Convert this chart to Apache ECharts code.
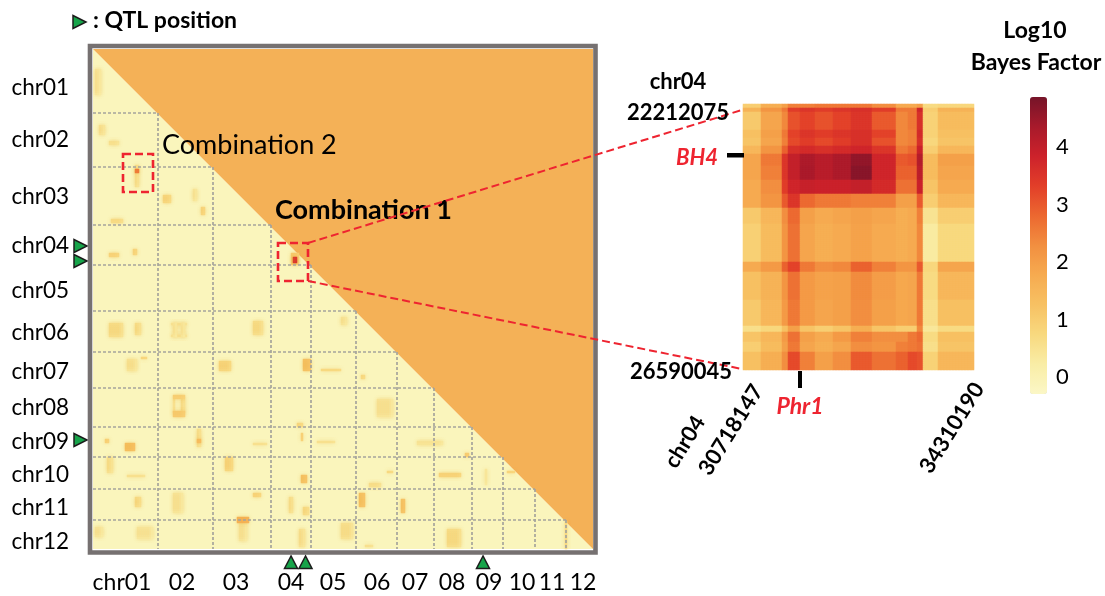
<!DOCTYPE html>
<html>
<head>
<meta charset="utf-8">
<style>html,body{margin:0;padding:0;background:#fff}#c{width:1105px;height:596px}</style>
<script src="https://cdn.jsdelivr.net/npm/echarts@6/dist/echarts.min.js"></script>
</head>
<body>
<div id="c"></div>
<script>
// ---- genome-wide map (positions in map units, 0-500 across the genome) ----
const chrTickX = ['chr01','02','03','04','05','06','07','08','09','10','11','12'];
const chrTickY = ['chr01','chr02','chr03','chr04','chr05','chr06','chr07','chr08','chr09','chr10','chr11','chr12'];
const tickPosX = [29,89,143,198,240,284,322,359,396,429,459,490];
const tickPosY = [39,91,148,197,242,284,323,359,393,426,459,493];
const colBounds = [65,120,178,218,263,304,341,379,410,442,473];
const rowBounds = [64,118,176,216,262,303,339,378,408,440,471];
const qtlCols = [198,212.5,390];
const qtlRows = [197,212,391];
// elevated regions: [x0, y0, x1, y1, log10BF]
const hotspots = [
 [43,116,46,138,0.5],[43,121,46,124,2.6],
 [199,205,206,216,1.0],[200,209,204,214,3.5],
 [17,93,25,95,0.45],[70,146,77,154,0.7],[108,159,112,166,0.8],[19,171,29,174,0.6],
 [17,205,25,208,0.8],[40,201,44,205,0.8],[101,141,103,151,0.35],[2,21,7,46,0.3],[7,76,11,86,0.4],
 [17,274,30,288,0.5],[43,274,47,286,0.5],[79,274,93,276,0.35],[79,286,93,288,0.35],[81,274,83,288,0.35],[89,274,91,288,0.35],
 [160,273,169,286,0.5],[248,269,254,276,0.35],
 [35,311,44,321,0.35],[49,308,54,310,0.8],[126,313,137,321,0.7],[210,311,217,321,1.2],[229,320,247,322,0.7],
 [80,346,91,350,0.9],[80,363,91,368,1.0],[80,350,82,363,0.5],[89,350,91,363,0.5],
 [284,351,300,368,0.3],[269,326,272,329,0.7],
 [33,395,42,401,1.3],[13,391,15,393,0.9],[105,380,107,398,0.5],[104,390,107,394,1.4],
 [160,394,174,395,0.5],[208,385,210,391,0.9],[205,375,209,378,0.7],[224,392,242,393,0.5],[324,393,350,396,0.35],
 [14,409,19,423,0.45],[132,409,140,421,0.7],[209,426,214,434,1.2],[35,426,52,427,0.5],
 [347,425,367,428,0.8],[295,422,300,424,0.7],[373,404,376,408,1.0],[415,422,422,424,0.8],[392,421,394,435,0.35],
 [277,435,287,438,0.5],
 [43,448,48,458,0.6],[80,444,89,463,0.3],[160,445,167,448,0.8],[196,448,199,463,0.5],[210,458,215,466,0.6],
 [267,444,271,458,1.2],[309,451,312,464,1.2],
 [145,468,155,474,1.6],[146,474,154,491,0.3],[45,478,59,489,0.25],[2,478,9,488,0.3],[207,481,212,498,0.4],
 [249,474,259,489,0.4],[354,481,367,498,0.5],[272,496,280,498,0.5],[472,473,474,499,0.7]
];
// ---- chr04 zoom: block sizes and values, read row by row ----
const zoomColSpans = [6,7,2,4,5,6,6,7,8,4,3,2,5,12];
const zoomRowSpans = [2,2,9,4,4,4,6,7,7,7,8,19,5,14,13,3,5,5,9];
const zoomValues = [
 [1.0,1.7,2.0,2.5,2.5,2.6,2.6,2.6,2.3,1.8,1.8,2.0,0.7,0.8],
 [1.6,2.2,2.6,3.4,3.5,3.4,3.5,3.6,3.4,2.6,2.6,3.8,1.0,1.6],
 [1.1,1.9,2.4,3.1,3.3,3.1,3.3,3.5,3.0,2.4,2.6,3.6,0.9,1.4],
 [1.3,2.0,2.6,3.3,3.5,3.4,3.5,3.6,3.3,2.4,2.5,3.7,0.9,1.3],
 [1.2,1.9,2.5,3.2,3.4,3.2,3.4,3.6,3.1,2.4,2.5,3.6,0.8,1.2],
 [1.5,2.2,2.9,3.6,3.7,3.6,3.7,3.8,3.5,2.6,2.8,3.9,1.0,1.5],
 [1.9,2.6,3.5,4.0,4.3,4.15,4.3,4.6,3.8,3.0,3.1,4.2,1.4,2.0],
 [1.9,2.5,3.5,4.0,4.35,4.15,4.3,4.7,3.8,2.9,2.9,4.1,1.4,1.9],
 [1.8,2.3,3.4,3.8,3.95,3.9,3.9,4.0,3.7,2.7,2.7,3.9,1.2,1.8],
 [1.8,2.2,3.0,3.5,2.8,2.6,2.6,2.5,2.5,2.0,2.0,3.0,1.0,1.5],
 [1.1,1.5,2.3,2.8,2.0,1.8,1.9,2.0,1.9,1.7,1.8,2.5,0.5,1.0],
 [0.95,1.4,2.2,2.7,1.9,1.7,1.8,1.95,1.8,1.7,1.8,2.4,0.3,0.75],
 [1.8,2.1,2.9,3.3,2.6,2.3,2.4,2.9,2.5,2.2,2.2,3.0,0.8,1.9],
 [1.3,1.6,2.2,2.7,2.1,1.95,2.0,2.35,2.05,1.85,1.9,2.6,0.7,1.5],
 [1.1,1.5,2.1,2.6,2.1,1.9,2.0,2.3,2.0,1.85,1.9,2.6,0.6,1.3],
 [0.6,0.8,1.3,2.0,1.2,1.0,1.2,1.7,1.2,1.0,1.0,2.4,0.4,0.7],
 [1.2,1.5,2.1,2.7,2.0,1.8,2.1,2.5,2.3,2.3,2.6,2.8,0.7,1.3],
 [1.0,1.4,2.0,2.6,1.9,1.7,1.9,2.3,2.2,2.5,2.6,2.7,0.6,1.2],
 [1.3,1.7,2.3,3.2,2.5,2.0,2.3,3.0,2.7,2.9,3.2,3.1,0.9,1.5]
];
// ---- colour scale ----
const scaleMin = -0.28, scaleMax = 4.89;
const scaleTicks = [0,1,2,3,4];
const scaleColors = ['#FBF7C6','#F9EDA6','#F8D97F','#F7C163','#F6AB50','#F28F40','#EC6830','#E23F29','#CD222B','#A81A2B','#761429'];

const FONT = 'Lato';
const RED = '#EE2430';
const GREEN = '#17A44A';
const UNIT_PER_BIN = 2, MAP_BINS = 250;

// build heatmap cells
const mapCells = [];
hotspots.forEach(([x0,y0,x1,y1,v]) => {
  for (let bx = Math.floor(x0/UNIT_PER_BIN); bx < Math.ceil(x1/UNIT_PER_BIN); bx++)
    for (let by = Math.floor(y0/UNIT_PER_BIN); by < Math.ceil(y1/UNIT_PER_BIN); by++)
      if (bx <= by) mapCells.push([bx, by, v]);
});
mapCells.sort((a,b)=>a[2]-b[2]);
const zoomCells = [];
let rowIdx = 0;
zoomRowSpans.forEach((rs, r) => {
  for (let i = 0; i < rs; i++, rowIdx++) {
    let colIdx = 0;
    zoomColSpans.forEach((cs, c) => {
      for (let j = 0; j < cs; j++, colIdx++) zoomCells.push([colIdx, rowIdx, zoomValues[r][c]]);
    });
  }
});
const idx = n => Array.from({length:n}, (_, i) => String(i));
const nCols = zoomColSpans.reduce((a,b)=>a+b,0), nRows = zoomRowSpans.reduce((a,b)=>a+b,0);

const hiddenCat = (n, extra) => Object.assign({type:'category', data:idx(n), show:false}, extra);
const tri = (pts) => ({type:'polygon', shape:{points:pts}, style:{fill:GREEN, stroke:'#1c1c1c', lineWidth:1.5}});

function txt(s, x, y, size, o) {
  return {type:'text', x, y, z:50, silent:true, rotation:(o&&o.rot||0)*Math.PI/180,
    style:{text:s, fontFamily:FONT, fontSize:size, fontWeight:(o&&o.bold)?'bold':'normal', fontStyle:(o&&o.italic)?'italic':'normal',
    fill:(o&&o.color)||'#000', textAlign:(o&&o.align)||'center', textVerticalAlign:'middle', verticalAlign:'middle'}};
}
const redBox = (x,y,w,h) => ({type:'rect', z:50, silent:true, shape:{x,y,width:w,height:h}, style:{fill:null, stroke:RED, lineWidth:2.6, lineDash:[8,4]}});
const redLine = (x1,y1,x2,y2) => ({type:'line', z:50, silent:true, shape:{x1,y1,x2,y2}, style:{stroke:RED, lineWidth:2, lineDash:[8,4]}});
const blackBar = (x,y,w,h) => ({type:'rect', z:50, silent:true, shape:{x,y,width:w,height:h}, style:{fill:'#000'}});

const option = {
  animation:false,
  backgroundColor:'#fff',
  grid:[
    {left:93, top:49, width:500, height:500, containLabel:false},
    {left:743, top:104, width:231, height:266},
    {left:1030, top:96, width:17, height:297}
  ],
  xAxis:[
    hiddenCat(MAP_BINS,{gridIndex:0}),
    {type:'value', gridIndex:0, min:0, max:500, position:'bottom', splitLine:{show:false}, axisLine:{show:false}, axisTick:{show:false},
     axisLabel:{customValues:tickPosX, margin:22, fontFamily:FONT, fontSize:23, color:'#000', hideOverlap:false,
       formatter:v=>chrTickX[tickPosX.indexOf(v)]}},
    hiddenCat(nCols,{gridIndex:1}),
    {type:'value', gridIndex:2, show:false, min:0, max:1}
  ],
  yAxis:[
    hiddenCat(MAP_BINS,{gridIndex:0, inverse:true}),
    {type:'value', gridIndex:0, inverse:true, min:0, max:500, position:'left', splitLine:{show:false}, axisLine:{show:false}, axisTick:{show:false},
     axisLabel:{customValues:tickPosY, margin:24, fontFamily:FONT, fontSize:22.5, color:'#000', hideOverlap:false,
       formatter:v=>chrTickY[tickPosY.indexOf(v)]}},
    hiddenCat(nRows,{gridIndex:1, inverse:true}),
    {type:'value', gridIndex:2, min:scaleMin, max:scaleMax, position:'right', splitLine:{show:false}, axisLine:{show:false},
     axisTick:{show:true, customValues:scaleTicks, length:2, lineStyle:{color:'#999'}},
     axisLabel:{customValues:scaleTicks, margin:9, fontFamily:FONT, fontSize:22, color:'#000', hideOverlap:false}}
  ],
  visualMap:{type:'continuous', min:scaleMin, max:scaleMax, seriesIndex:[1,3], calculable:false, hoverLink:false, silent:true,
    left:1015, top:82, itemWidth:17, itemHeight:297, orient:'vertical', text:null, showLabel:false, inRange:{color:scaleColors}},
  series:[
    {type:'custom', xAxisIndex:1, yAxisIndex:1, silent:true, z:1, data:[[0,0]],
     renderItem:(p,api)=>{
       const a=api.coord([0,0]), b=api.coord([500,0]), c=api.coord([500,500]), d=api.coord([0,500]);
       return {type:'group', children:[
         {type:'polygon', shape:{points:[a,c,d]}, style:{fill:'#FAF5BC'}},
         {type:'polygon', shape:{points:[a,b,c]}, style:{fill:'#F4B157'}}
       ]};
     }},
    {type:'heatmap', xAxisIndex:0, yAxisIndex:0, data:mapCells, silent:true, z:2, progressive:0, emphasis:{disabled:true},
     itemStyle:{shadowBlur:4, shadowColor:'rgba(246,190,100,0.3)'}},
    {type:'custom', xAxisIndex:1, yAxisIndex:1, silent:true, z:3, data:[[0,0]],
     renderItem:(p,api)=>{
       const st={stroke:'#A5A49C', lineWidth:1.7, lineDash:[3,2]};
       const kids=[];
       rowBounds.forEach((r,i)=>{const s=api.coord([0,r]),e=api.coord([colBounds[i],r]);
         kids.push({type:'line',shape:{x1:s[0],y1:s[1],x2:e[0],y2:e[1]},style:st});});
       colBounds.forEach((c,i)=>{const s=api.coord([c,rowBounds[i]]),e=api.coord([c,500]);
         kids.push({type:'line',shape:{x1:s[0],y1:s[1],x2:e[0],y2:e[1]},style:st});});
       return {type:'group',children:kids};
     }},
    {type:'heatmap', xAxisIndex:2, yAxisIndex:2, data:zoomCells, silent:true, progressive:0, emphasis:{disabled:true}},
    {type:'custom', xAxisIndex:1, yAxisIndex:1, silent:true, z:5, data:qtlCols.map(c=>[c,500]),
     renderItem:(p,api)=>{const q=api.coord([api.value(0),api.value(1)]);
       return tri([[q[0],q[1]+7],[q[0]-6.5,q[1]+19.5],[q[0]+6.5,q[1]+19.5]]);}},
    {type:'custom', xAxisIndex:1, yAxisIndex:1, silent:true, z:5, data:qtlRows.map(r=>[0,r]),
     renderItem:(p,api)=>{const q=api.coord([api.value(0),api.value(1)]);
       return tri([[q[0]-6,q[1]],[q[0]-19,q[1]-6.5],[q[0]-19,q[1]+6.5]]);}}
  ],
  graphic:{elements:[
    {type:'rect', z:40, silent:true, shape:{x:90,y:46,width:505.5,height:506.5}, style:{fill:null, stroke:'#767171', lineWidth:4.6}},
    {type:'polygon', z:50, silent:true, shape:{points:[[73,15.5],[86,22],[73,28.5]]}, style:{fill:GREEN, stroke:'#1c1c1c', lineWidth:1.5}},
    txt(': QTL position', 93, 21, 23, {bold:true, align:'left'}),
    txt('Combination 2', 162, 145, 27, {align:'left'}),
    txt('Combination 1', 275, 210, 27, {bold:true, align:'left'}),
    redBox(123,154,30,38), redBox(278,243,30,38),
    redLine(308,243,742,110), redLine(308,281,742,369),
    txt('chr04', 678, 82, 22, {bold:true}),
    txt('22212075', 678, 113, 22, {bold:true}),
    txt('26590045', 681, 372, 22, {bold:true}),
    txt('BH4', 697, 158, 22, {bold:true, italic:true, color:RED}),
    blackBar(727,153,17,4.5),
    blackBar(798,371,4,17),
    txt('Phr1', 800, 407, 23, {bold:true, italic:true, color:RED}),
    txt('chr04', 685, 442, 22, {bold:true, rot:58}),
    txt('30718147', 731, 430, 22, {bold:true, rot:58}),
    txt('34310190', 952, 428, 22, {bold:true, rot:58}),
    txt('Log10', 1035, 31, 23, {bold:true}),
    txt('Bayes Factor', 1036, 63, 23, {bold:true})
  ]}
};
const chart = echarts.init(document.getElementById('c'), null, {renderer:'canvas'});
chart.setOption(option);
</script>
</body>
</html>
